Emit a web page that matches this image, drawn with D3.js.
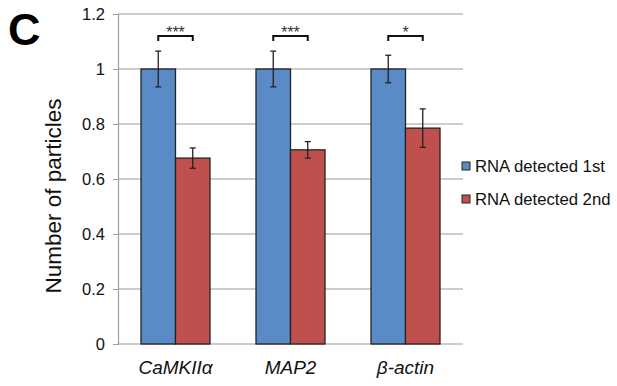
<!DOCTYPE html>
<html><head><meta charset="utf-8">
<script src="https://cdn.jsdelivr.net/npm/d3@7"></script>
<style>body{margin:0;background:#fff;}svg{display:block;font-family:"Liberation Sans",Arial,sans-serif;}</style>
</head><body>
<svg id="c" width="617" height="386"></svg>
<script>
const categories = ["CaMKIIα", "MAP2", "β-actin"];
const seriesNames = ["RNA detected 1st", "RNA detected 2nd"];
const first = [1, 1, 1];
const firstErr = [0.065, 0.065, 0.05];
const second = [0.676, 0.706, 0.785];
const secondErr = [0.037, 0.03, 0.07];
const sig = ["***", "***", "*"];
const sigLevel = [1.12, 1.12, 1.12];
const yTicks = [0, 0.2, 0.4, 0.6, 0.8, 1, 1.2];
const colors = ["#5B8BC6", "#C0504D"];

(function(){
const svg = d3.select("#c");
const pl = 118, pr = 463, pt = 14, pb = 344;
const x = d3.scaleBand().domain(categories).range([pl, pr]).paddingInner(0.4).paddingOuter(0.2);
const xs = d3.scaleBand().domain([0,1]).range([0, x.bandwidth()]);
const y = d3.scaleLinear().domain([0, 1.2]).range([pb, pt]);

svg.append("g").selectAll("line").data(yTicks).join("line")
  .attr("x1", pl).attr("x2", pr).attr("y1", d=>y(d)).attr("y2", d=>y(d))
  .attr("stroke", "#bdbdbd").attr("stroke-width", 1.5);

const ya = svg.append("g").attr("transform", `translate(${pl},0)`)
  .call(d3.axisLeft(y).tickValues(yTicks).tickSize(5).tickPadding(8).tickFormat(d=>d3.format("")(d)));
ya.select(".domain").attr("stroke", "#a0a0a0").attr("stroke-width", 1.2);
ya.selectAll(".tick line").attr("stroke", "#a0a0a0");
ya.selectAll("text").attr("font-size", 16.5).attr("fill", "#111").attr("font-family", "Liberation Sans, Arial, sans-serif");

const data = categories.map((c,i)=>({c, vals:[first[i], second[i]], errs:[firstErr[i], secondErr[i]], sig:sig[i], s:sigLevel[i]}));

const g = svg.append("g").selectAll("g").data(data).join("g")
  .attr("transform", d=>`translate(${x(d.c)},0)`);
g.selectAll("rect").data(d=>d.vals.map((v,k)=>({v,k}))).join("rect")
  .attr("x", d=>xs(d.k)).attr("width", xs.bandwidth())
  .attr("y", d=>y(d.v)).attr("height", d=>y(0)-y(d.v))
  .attr("fill", d=>colors[d.k]).attr("stroke", "#222").attr("stroke-width", 1.3);

const eb = g.selectAll("g.err").data(d=>d.vals.map((v,k)=>({v,k,e:d.errs[k]}))).join("g").attr("class","err");
eb.append("line").attr("x1", d=>xs(d.k)+xs.bandwidth()/2).attr("x2", d=>xs(d.k)+xs.bandwidth()/2)
  .attr("y1", d=>y(d.v+d.e)).attr("y2", d=>y(d.v-d.e)).attr("stroke", "#222").attr("stroke-width", 1.3);
eb.selectAll("line.cap").data(d=>[d.v+d.e, d.v-d.e].map(t=>({t,k:d.k}))).join("line").attr("class","cap")
  .attr("x1", d=>xs(d.k)+xs.bandwidth()/2-3).attr("x2", d=>xs(d.k)+xs.bandwidth()/2+3)
  .attr("y1", d=>y(d.t)).attr("y2", d=>y(d.t)).attr("stroke", "#222").attr("stroke-width", 1.3);

g.append("path").attr("d", d=>{
  const x1 = xs(0)+xs.bandwidth()/2, x2 = xs(1)+xs.bandwidth()/2, yy = y(d.s), yb = y(d.s-0.018);
  return `M${x1},${yb}V${yy}H${x2}V${yb}`;
}).attr("fill","none").attr("stroke","#111").attr("stroke-width",2);
g.append("text").attr("x", x.bandwidth()/2).attr("y", d=>y(d.s)+2)
  .attr("text-anchor","middle").attr("font-size",16).attr("fill","#333").text(d=>d.sig);

svg.append("g").selectAll("text").data(categories).join("text")
  .attr("x", d=>x(d)+x.bandwidth()/2).attr("y", 374)
  .attr("text-anchor","middle").attr("font-size",19).attr("font-style","italic").attr("fill","#111").text(d=>d);

svg.append("text").attr("transform","translate(61,196) rotate(-90)").attr("text-anchor","middle")
  .attr("font-size",22.5).attr("fill","#111").text("Number of particles");

svg.append("text").attr("x",8).attr("y",45).attr("font-size",45).attr("font-weight","bold").attr("fill","#000").text("C");

const lg = svg.append("g").selectAll("g").data(seriesNames).join("g")
  .attr("transform",(d,i)=>`translate(462,${162+i*33})`);
lg.append("rect").attr("width",8).attr("height",8).attr("fill",(d,i)=>colors[i]).attr("stroke","#222").attr("stroke-width",1);
lg.append("text").attr("x",13).attr("y",10).attr("font-size",16.7).attr("fill","#111").text(d=>d);
})();
</script>
</body></html>
